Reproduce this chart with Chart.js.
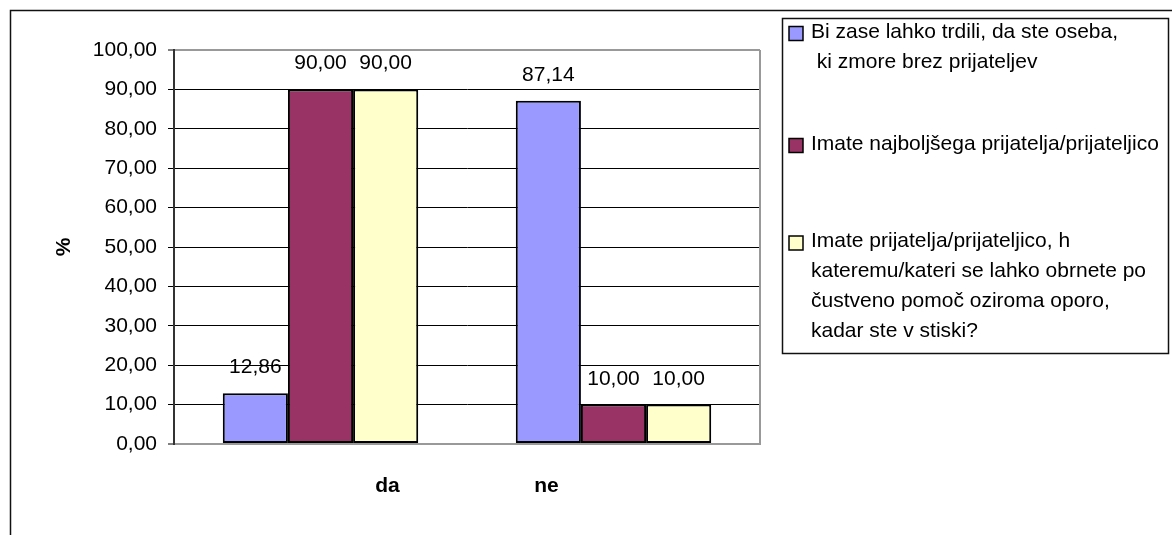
<!DOCTYPE html>
<html>
<head>
<meta charset="utf-8">
<script src="https://cdn.jsdelivr.net/npm/chart.js@4/dist/chart.umd.min.js"></script>
<style>
  html, body { margin: 0; padding: 0; background: #fff; }
  #wrap { width: 1172px; height: 535px; }
</style>
</head>
<body>
<div id="wrap"><canvas id="c" width="1172" height="535"></canvas></div>
<script>
// Survey answers (share of respondents, %)
const categories = ['da', 'ne'];
const seriesAloneValues = [12.86, 87.14];
const seriesBestFriendValues = [90.00, 10.00];
const seriesSupportValues = [90.00, 10.00];

// Series names, already wrapped the way the legend prints them
const seriesNameLines = [
  ['Bi zase lahko trdili, da ste oseba,', ' ki zmore brez prijateljev'],
  ['Imate najboljšega prijatelja/prijateljico'],
  ['Imate prijatelja/prijateljico, h', 'kateremu/kateri se lahko obrnete po', 'čustveno pomoč oziroma oporo,', 'kadar ste v stiski?']
];
const seriesColors = ['#9999FF', '#993366', '#FFFFCC'];

const yAxisTitle = '%';
const yMin = 0;
const yMax = 100;
const yStep = 10;

const FONT = "'Liberation Sans', Arial, sans-serif";
const FONT_SIZE = 21;
const fmt = v => Number(v).toFixed(2).replace('.', ',');

// White page with the chart frame (left and top edges visible)
const pageFrame = {
  id: 'pageFrame',
  beforeDraw(chart) {
    const ctx = chart.ctx;
    ctx.save();
    ctx.fillStyle = '#fff';
    ctx.fillRect(0, 0, chart.width, chart.height);
    ctx.strokeStyle = '#111';
    ctx.lineWidth = 1.5;
    ctx.beginPath();
    ctx.moveTo(10.5, chart.height + 2);
    ctx.lineTo(10.5, 10.5);
    ctx.lineTo(chart.width + 2, 10.5);
    ctx.stroke();
    ctx.restore();
  }
};

// Grey right edge of the plot area
const plotFrame = {
  id: 'plotFrame',
  beforeDatasetsDraw(chart) {
    const { ctx, chartArea: a } = chart;
    ctx.save();
    ctx.strokeStyle = '#999';
    ctx.lineWidth = 2;
    ctx.beginPath();
    ctx.moveTo(a.right, a.top);
    ctx.lineTo(a.right, a.bottom);
    ctx.stroke();
    ctx.restore();
  }
};

// Value labels above every bar
const valueLabels = {
  id: 'valueLabels',
  afterDatasetsDraw(chart) {
    const ctx = chart.ctx;
    ctx.save();
    ctx.font = FONT_SIZE + 'px ' + FONT;
    ctx.fillStyle = '#000';
    ctx.textAlign = 'center';
    ctx.textBaseline = 'alphabetic';
    chart.data.datasets.forEach((ds, di) => {
      chart.getDatasetMeta(di).data.forEach((bar, i) => {
        ctx.fillText(fmt(ds.data[i]), bar.x, bar.y - 20);
      });
    });
    ctx.restore();
  }
};

// Bold category names under the plot, pulled towards its middle
const categoryLabels = {
  id: 'categoryLabels',
  afterDraw(chart) {
    const { ctx, chartArea: a } = chart;
    const xs = chart.scales.x;
    const mid = (a.left + a.right) / 2;
    ctx.save();
    ctx.font = 'bold ' + FONT_SIZE + 'px ' + FONT;
    ctx.fillStyle = '#000';
    ctx.textAlign = 'center';
    ctx.textBaseline = 'alphabetic';
    chart.data.labels.forEach((lab, i) => {
      const px = xs.getPixelForValue(i);
      ctx.fillText(lab, px + (mid - px) * 0.457, a.bottom + 48);
    });
    ctx.restore();
  }
};

// Boxed legend on the right
const boxLegend = {
  id: 'boxLegend',
  afterDraw(chart, args, opts) {
    const ctx = chart.ctx;
    const b = opts.box;
    ctx.save();
    ctx.fillStyle = '#fff';
    ctx.fillRect(b.x, b.y, b.w, b.h);
    ctx.strokeStyle = '#111';
    ctx.lineWidth = 1.5;
    ctx.strokeRect(b.x + 0.5, b.y + 0.5, b.w, b.h);
    ctx.font = FONT_SIZE + 'px ' + FONT;
    ctx.textAlign = 'left';
    ctx.textBaseline = 'alphabetic';
    chart.data.datasets.forEach((ds, i) => {
      const base = opts.baselines[i];
      ctx.fillStyle = ds.backgroundColor;
      ctx.fillRect(b.x + 7, base - 11, 14, 14);
      ctx.strokeStyle = '#000';
      ctx.lineWidth = 1.5;
      ctx.strokeRect(b.x + 7, base - 11, 14, 14);
      ctx.fillStyle = '#000';
      ds.nameLines.forEach((line, k) => {
        ctx.fillText(line, b.x + 29, base + k * 30);
      });
    });
    ctx.restore();
  }
};

const seriesValues = [seriesAloneValues, seriesBestFriendValues, seriesSupportValues];

new Chart(document.getElementById('c'), {
  type: 'bar',
  data: {
    labels: categories,
    datasets: seriesValues.map((vals, i) => ({
      label: seriesNameLines[i].map(s => s.trim()).join(' '),
      nameLines: seriesNameLines[i],
      data: vals,
      backgroundColor: seriesColors[i],
      borderColor: '#000',
      borderWidth: 2,
      borderSkipped: false,
      categoryPercentage: 0.667,
      barPercentage: 1.0
    }))
  },
  options: {
    responsive: false,
    animation: false,
    events: [],
    layout: { padding: { left: 0, top: 50, right: 412, bottom: 0 } },
    plugins: {
      legend: { display: false },
      tooltip: { enabled: false },
      boxLegend: {
        box: { x: 782, y: 18, w: 386, h: 335 },
        baselines: [37.5, 149.5, 247]
      }
    },
    scales: {
      x: {
        ticks: { display: false },
        grid: { display: false, drawTicks: false },
        border: { display: true, color: '#999', width: 2 },
        afterFit(scale) { scale.height = 91; }
      },
      y: {
        min: yMin,
        max: yMax,
        ticks: {
          stepSize: yStep,
          color: '#000',
          padding: 11,
          font: { family: FONT, size: FONT_SIZE },
          callback: v => fmt(v)
        },
        grid: {
          color: ctx => (ctx.tick && (ctx.tick.value === yMin || ctx.tick.value === yMax)) ? '#999' : '#000',
          lineWidth: ctx => (ctx.tick && (ctx.tick.value === yMin || ctx.tick.value === yMax)) ? 2 : 1,
          tickColor: '#000',
          tickLength: 6,
          tickWidth: 1
        },
        border: { display: true, color: '#333', width: 2 },
        title: {
          display: true,
          text: yAxisTitle,
          color: '#000',
          font: { family: FONT, size: FONT_SIZE, weight: 'bold' },
          padding: { top: 52, bottom: 0 }
        },
        afterFit(scale) { scale.width = 174; }
      }
    }
  },
  plugins: [pageFrame, plotFrame, valueLabels, categoryLabels, boxLegend]
});
</script>
</body>
</html>
